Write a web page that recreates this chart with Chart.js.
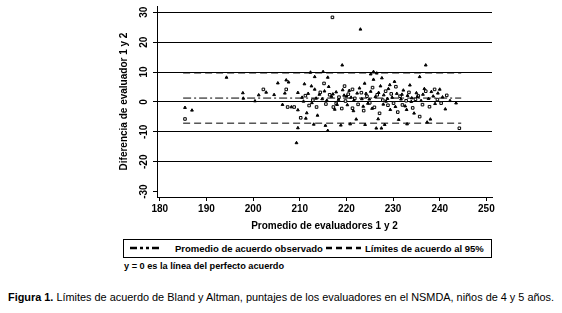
<!DOCTYPE html>
<html>
<head>
<meta charset="utf-8">
<script src="https://cdn.jsdelivr.net/npm/chart.js@4.4.0/dist/chart.umd.min.js"></script>
<style>
  body { margin: 0; background: #fff; font-family: "Liberation Sans", Arial, sans-serif; }
  #wrap { position: relative; width: 562px; height: 313px; overflow: hidden; }
  #chart { position: absolute; left: 0; top: 0; }
  #legend {
    position: absolute; left: 123px; top: 239px; width: 369px; height: 19px;
    border: 1px solid #000; box-sizing: border-box;
    font-weight: bold; font-size: 9.5px; line-height: 17px; white-space: nowrap;
  }
  #legend span { position: absolute; top: 0; }
  #legend svg { position: absolute; top: 4px; }
  #note { position: absolute; left: 124px; top: 261px; font-weight: bold; font-size: 9.2px; white-space: nowrap; }
  #caption { position: absolute; left: 8px; top: 291px; font-size: 10.9px; white-space: nowrap; }
</style>
</head>
<body>
<div id="wrap">
  <canvas id="chart" width="562" height="236"></canvas>
  <div id="legend">
    <svg width="32" height="8" style="left:6px"><line x1="0" y1="4" x2="32" y2="4" stroke="#000" stroke-width="2.5" stroke-dasharray="7,3,3,3,3,3"/></svg>
    <span style="left:51px">Promedio de acuerdo observado</span>
    <svg width="35" height="8" style="left:202px"><line x1="0" y1="4" x2="35" y2="4" stroke="#000" stroke-width="2.5" stroke-dasharray="6,4"/></svg>
    <span style="left:241px">Límites de acuerdo al 95%</span>
  </div>
  <div id="note">y = 0 es la línea del perfecto acuerdo</div>
  <div id="caption"><b>Figura 1.</b> Límites de acuerdo de Bland y Altman, puntajes de los evaluadores en el NSMDA, niños de 4 y 5 años.</div>
</div>
<script>
const triangles = [
  [185.4, -1.9], [186.9, -2.8], [194.3, 8.2], [197.8, 3], [197.9, 1.2], [200.4, 0.3],
  [201.2, 2.3], [202.8, 3.2], [204.5, 2.4], [205.3, 6.3], [206.3, -0.9], [206.8, 2.9],
  [207.1, 7.3], [207.6, 6.6], [208.2, -1.7], [209.6, -2.7], [209.6, -8.7], [209.3, -13.7],
  [209.6, 3.1], [210.5, 1.5], [210.8, 0.2], [211, 6], [211.3, -5.5], [211.5, -3.7],
  [211.8, 2.8], [212.3, 9.9], [212.5, 5.3], [212.6, -0.3], [213, -7.5], [213.2, 8.4],
  [213.2, 4.2], [213.5, 1.2], [213.8, -4.5], [214.2, 2.5], [214.8, 1], [215, 10.1],
  [215.3, 3.6], [215.5, -7.9], [215.8, 0.5], [216, 8.2], [216, -9.6], [216.2, 5.1],
  [216.8, 1.8], [217.1, 2.6], [217.5, -2.5], [217.8, 3.3], [218, -0.9], [218.3, 0.8],
  [218.8, -7.8], [219.1, 12.3], [219.2, 4], [219.5, 2.2], [220, 1.9], [220.2, -1],
  [220.6, 3.8], [220.8, -7.4], [221, 1.5], [221.5, -3], [221.6, 0.5], [222.1, -5.8],
  [222.3, 2.9], [222.8, 4.6], [223, 24.3], [223.3, 1], [223.6, -1.5], [223.9, 6.2],
  [224, -7.6], [224.2, 2.8], [224.6, -0.5], [224.9, 0.9], [225.2, 3.5], [225.2, 9.3],
  [225.5, -2.2], [225.8, 10.1], [225.8, 7.5], [226.2, 1.7], [226.4, -8.8], [226.5, 9.6],
  [226.8, -5.7], [226.9, 3.1], [227.3, 5.3], [227.5, -8.8], [227.6, 8], [227.9, -0.8],
  [228, 2.3], [228.2, -7.6], [228.5, 0.2], [228.8, 1.1], [229, 4.4], [229.3, 5.7],
  [229.4, -2.6], [229.8, 1.5], [230.3, 6.8], [230.5, -1.6], [230.8, 2.8], [231.2, -5.9],
  [231.7, 0.9], [231.9, 2.5], [232.2, 3.9], [232.6, -1.4], [232.9, -2.6], [233, -7.4],
  [233.1, 2.1], [233.6, 5.6], [233.9, 0.1], [234, 1.3], [234.5, -3.8], [235, 3],
  [235.2, 1.7], [235.7, 8.4], [236, 0.4], [236.4, 2.5], [236.7, 4.4], [237, 12.3],
  [237.3, -6.8], [237.6, 1.1], [238, -5.8], [238.2, 3.4], [238.6, 1.9], [239, -0.6],
  [239.6, 2.9], [240, 4.2], [240.6, 1.6], [241.2, -2.4], [242.2, 0.4], [243.5, -0.4]
];
const squares = [
  [185.4, -5.7], [202.2, 4.2], [207.1, 4.2], [207.4, -1.7], [208.8, -1.7], [210.2, -5.3],
  [211.2, 2.1], [212, -1.2], [212.8, 0.6], [213.6, -1.7], [214.4, 3.2], [215.2, 6.2],
  [215.6, -0.7], [216.4, 2.4], [217, 28.3], [217.2, -1.7], [217.8, -0.5], [218.4, 1.6],
  [219, -2.2], [219.6, 5.3], [219.8, 0.3], [220.4, 2.6], [221.3, 4.2], [221.3, -2.1],
  [221.8, 1.2], [222.5, -0.8], [223.2, 3.1], [223.7, -2.9], [224.4, 1.9], [225, -0.3],
  [225.6, 4.8], [226, -1.8], [226.6, 2.4], [227.1, -3.8], [227.8, 0.6], [228.4, 3.6],
  [228.9, -1.1], [229.6, 2.7], [230.1, -0.4], [230.6, 5.1], [231, -3.4], [231.5, 1.9],
  [232, -1], [232.8, 0.4], [233.4, 3.2], [234.2, -2], [234.8, 0.9], [235.4, 2],
  [235.7, -4.9], [236.3, -0.9], [237, 3.6], [237.8, -1.6], [238.9, 4.2], [239.5, 0.8],
  [240.3, -0.4], [241.5, 2.2], [244.2, -8.8]
];

// Reference lines
const lineRange = [185, 244.6];
const meanDiff = 1.3;
const upperLimit = 9.7;
const lowerLimit = -7.1;

const xTicks = [180, 190, 200, 210, 220, 230, 240, 250];
const yTicks = [-30, -20, -10, 0, 10, 20, 30];

const FONT = { family: '"Liberation Sans", Arial, sans-serif', size: 10, weight: 'bold' };

function toXY(arr) {
  return arr.map(p => ({ x: p[0], y: p[1] }));
}
function hLine(y) {
  return lineRange.map(x => ({ x: x, y: y }));
}

// y tick labels are written sideways (read bottom to top)
const sidewaysYTicks = {
  id: 'sidewaysYTicks',
  afterDraw(chart) {
    const scale = chart.scales.y;
    const ctx = chart.ctx;
    ctx.save();
    ctx.fillStyle = '#000';
    ctx.font = 'bold 10px "Liberation Sans", Arial, sans-serif';
    ctx.textAlign = 'center';
    ctx.textBaseline = 'middle';
    scale.ticks.forEach(t => {
      const y = scale.getPixelForValue(t.value);
      ctx.save();
      ctx.translate(scale.right - 13, y);
      ctx.rotate(-Math.PI / 2);
      ctx.fillText(String(t.value), 0, 0);
      ctx.restore();
    });
    ctx.restore();
  }
};

new Chart(document.getElementById('chart'), {
  type: 'scatter',
  data: {
    datasets: [
      {
        label: 'triangles',
        data: toXY(triangles),
        pointStyle: 'triangle',
        pointRadius: 1.6,
        backgroundColor: '#000',
        borderColor: '#000',
        borderWidth: 1
      },
      {
        label: 'squares',
        data: toXY(squares),
        pointStyle: 'rect',
        pointRadius: 1.8,
        backgroundColor: '#fff',
        borderColor: '#000',
        borderWidth: 1
      },
      {
        label: 'Promedio de acuerdo observado',
        type: 'line',
        data: hLine(meanDiff),
        borderColor: '#000',
        borderWidth: 1,
        borderDash: [8, 3, 2, 3],
        pointRadius: 0
      },
      {
        label: 'Límite superior',
        type: 'line',
        data: hLine(upperLimit),
        borderColor: '#000',
        borderWidth: 1,
        borderDash: [7, 4],
        pointRadius: 0
      },
      {
        label: 'Límite inferior',
        type: 'line',
        data: hLine(lowerLimit),
        borderColor: '#000',
        borderWidth: 1,
        borderDash: [7, 4],
        pointRadius: 0
      }
    ]
  },
  options: {
    responsive: false,
    animation: false,
    layout: { padding: { left: 114, top: 6, right: 70, bottom: 0 } },
    plugins: {
      legend: { display: false },
      tooltip: { enabled: false }
    },
    scales: {
      x: {
        type: 'linear',
        min: 179.4,
        max: 251.2,
        afterBuildTicks: s => { s.ticks = xTicks.map(v => ({ value: v })); },
        afterFit: s => { s.height = 39; },
        grid: { drawOnChartArea: false, color: '#000', tickLength: 4 },
        border: { color: '#000', width: 1 },
        ticks: { color: '#000', font: FONT, padding: 2, maxRotation: 0 },
        title: { display: true, text: 'Promedio de evaluadores 1 y 2', color: '#000', font: FONT, padding: 4 }
      },
      y: {
        type: 'linear',
        min: -31.8,
        max: 32.1,
        afterBuildTicks: s => { s.ticks = yTicks.map(v => ({ value: v })); },
        afterFit: s => { s.width = 43; },
        grid: {
          color: c => (c.tick && c.tick.value === -30 ? 'rgba(0,0,0,0)' : '#000'),
          tickColor: '#000',
          lineWidth: 1,
          tickLength: 4
        },
        border: { color: '#000', width: 1 },
        ticks: { display: false },
        title: { display: true, text: 'Diferencia de evaluador 1 y 2', color: '#000', font: FONT, padding: 4 }
      }
    }
  },
  plugins: [sidewaysYTicks]
});
</script>
</body>
</html>
